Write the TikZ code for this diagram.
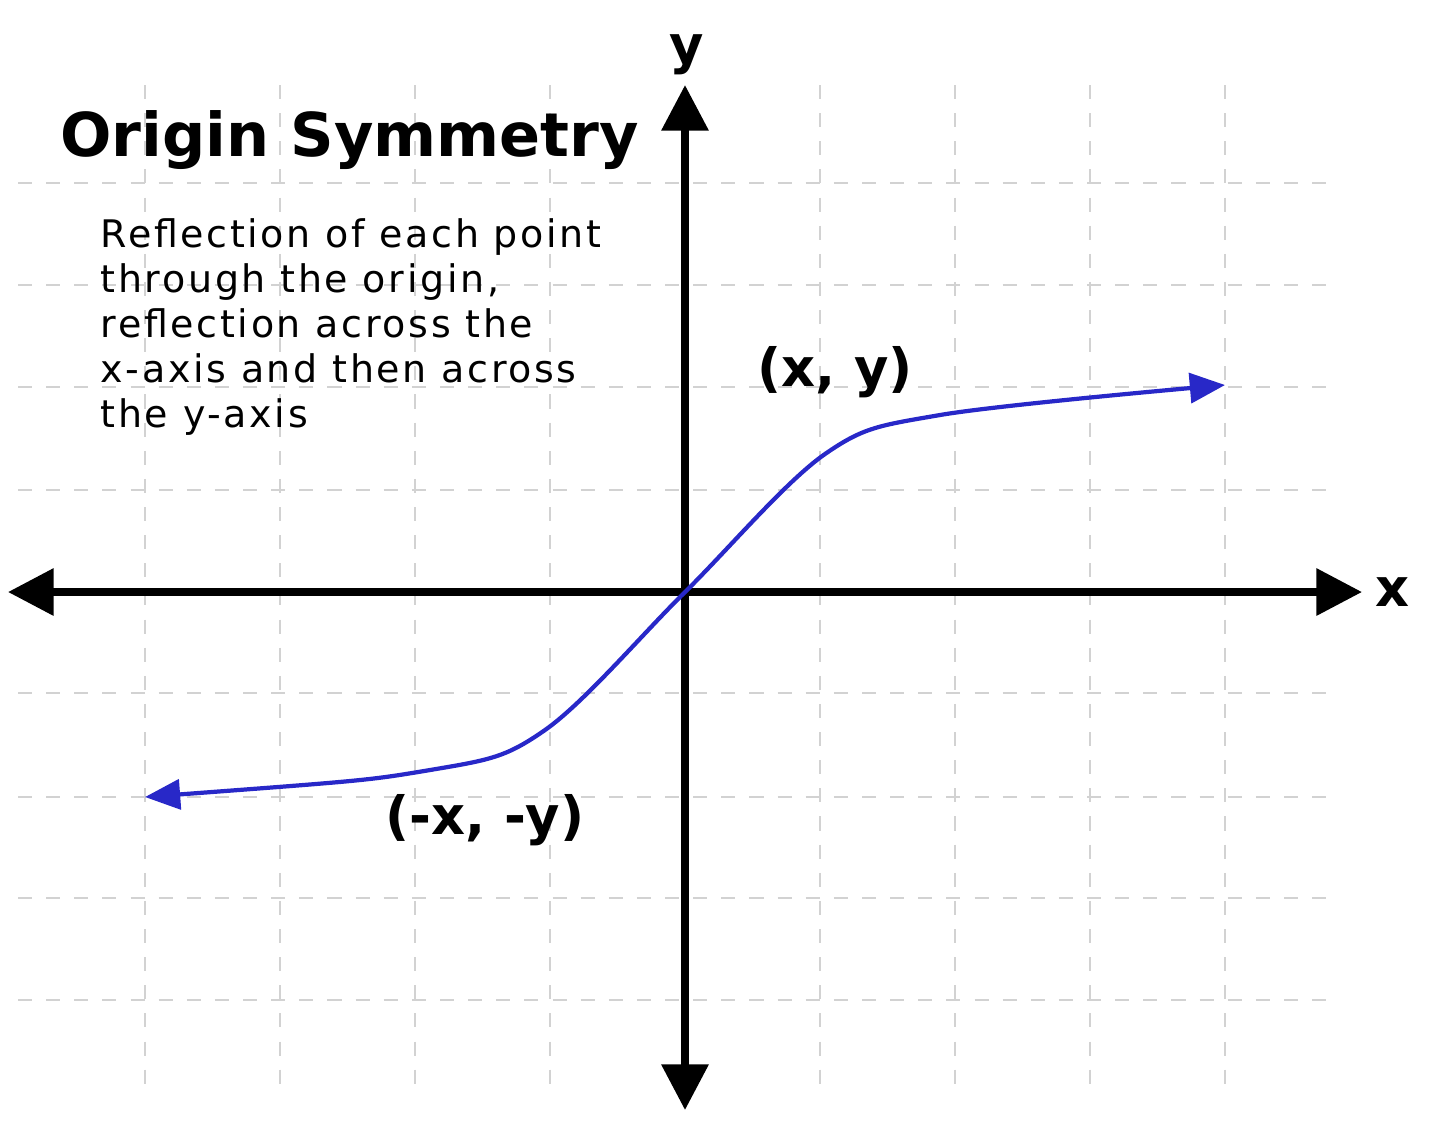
\documentclass[tikz,border=0pt]{standalone}
\usepackage{fontspec}
\setmainfont{DejaVu Sans}
\usetikzlibrary{arrows.meta}
\begin{document}
\begin{tikzpicture}[x=0.01cm,y=-0.01cm,
  gridline/.style={gray!35,dash pattern=on 4pt off 4pt,line width=0.8pt},
  axis/.style={line width=2.2pt,{Triangle[length=13pt,width=13pt]}-{Triangle[length=13pt,width=13pt]}},
  curve/.style={draw={rgb,255:red,40;green,40;blue,200},line width=1.2pt,{Triangle[length=10pt,width=8.5pt]}-{Triangle[length=10pt,width=8.5pt]}},
  lbl/.style={font=\bfseries\fontsize{15}{18}\selectfont}]
\useasboundingbox (0,0) rectangle (1440,1120);
\foreach \x in {145,280,415,550,820,955,1090,1225} \draw[gridline] (\x,85) -- (\x,1095);
\foreach \y in {183,285,387,490,693,797,898,1000} \draw[gridline] (18,\y) -- (1340,\y);
\coordinate (xl) at (8,592); \coordinate (xr) at (1362,592);
\coordinate (yt) at (685,85); \coordinate (yb) at (685,1110);
\draw[axis] (xl) -- (xr);
\draw[axis] (yb) -- (yt);
\draw[curve] plot[smooth,tension=0.55] coordinates {(145,797) (430,770) (545,730) (685,592) (825,454) (940,415) (1225,385)};
\node[lbl] (ylab) at (687,55) {y};
\node[lbl] (xlab) at (1392,592) {x};
\node[font=\bfseries\fontsize{17.2}{20}\selectfont,anchor=west] (title) at (48,140) {Origin Symmetry};
\node[anchor=north west,align=left,inner sep=0pt,font=\fontsize{10.8}{12.8}\selectfont\addfontfeature{LetterSpace=7}] (desc) at (100,218) {Reflection of each point\\through the origin,\\reflection across the\\x-axis and then across\\the y-axis};
\node[lbl] (p1) at (835,372) {(x, y)};
\node[lbl] (p2) at (485,820) {(-x, -y)};
\end{tikzpicture}
\end{document}
